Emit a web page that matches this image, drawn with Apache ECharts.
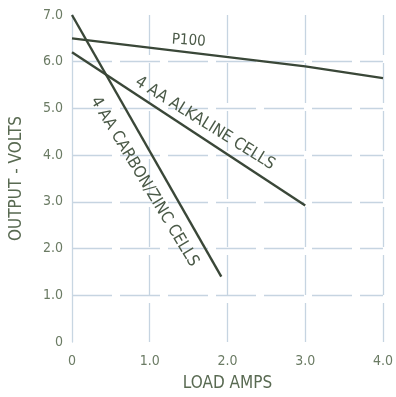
<!DOCTYPE html>
<html><head><meta charset="utf-8">
<script src="https://cdn.jsdelivr.net/npm/echarts@6/dist/echarts.min.js"></script>
<style>html,body{margin:0;padding:0;background:#fff;overflow:hidden}#c{width:396px;height:397px}</style>
</head><body><div id="c"></div>
<script>
const xTicks = [0, 1, 2, 3, 4];
const yTicks = [0, 1, 2, 3, 4, 5, 6, 7];
const p100 = [[0, 6.5], [3, 5.9], [4, 5.65]];
const alkaline = [[0, 6.2], [3, 2.92]];
const carbonZinc = [[0, 7.0], [1.92, 1.4]];
const labelNames = ['P100', '4 AA ALKALINE CELLS', '4 AA CARBON/ZINC CELLS'];
const labelCoords = [[1.5, 6.45], [1.71, 4.68], [0.93, 3.43]];
const labelAngles = [-4, -32, -59];

const font = '"DejaVu Sans Condensed", "Liberation Sans Narrow", sans-serif';
const lineColor = '#3a4738';
function ann(i) {
  return {
    coord: labelCoords[i], symbol: 'circle', symbolSize: 0,
    label: { show: true, position: 'inside', formatter: labelNames[i], rotate: labelAngles[i],
      color: '#4a5947', fontSize: i === 0 ? 15 : 16.5, fontFamily: font, fontWeight: 'normal' }
  };
}
function series(data, i) {
  return {
    type: 'line', data: data, symbol: 'none', lineStyle: { color: lineColor, width: 2.4 },
    markPoint: { silent: true, data: [ann(i)] }, z: 3
  };
}
const gridLine = { show: true, showMinLine: false, showMaxLine: false,
  lineStyle: { color: '#c6d4e1', width: 1.3, type: [40, 8] } };
const chart = echarts.init(document.getElementById('c'));
chart.setOption({
  animation: false,
  grid: { left: 63, right: 3, top: 15, bottom: 54, containLabel: false },
  xAxis: {
    type: 'value', min: 0, max: 4, interval: 1,
    name: 'LOAD AMPS', nameLocation: 'middle', nameGap: 33,
    nameTextStyle: { color: '#596a52', fontSize: 17, fontFamily: font },
    axisLine: { show: false }, axisTick: { show: false },
    axisLabel: { margin: 12, color: '#6b7b64', fontSize: 14, fontFamily: font,
      formatter: v => v === 0 ? '0' : v.toFixed(1) },
    splitLine: Object.assign({}, gridLine, { showMaxLine: true })
  },
  yAxis: {
    type: 'value', min: 0, max: 7, interval: 1,
    name: 'OUTPUT - VOLTS', nameLocation: 'middle', nameGap: 47,
    nameTextStyle: { color: '#596a52', fontSize: 17, fontFamily: font },
    axisLine: { show: true, lineStyle: { color: '#c8d6e2', width: 1.3 } },
    axisTick: { show: false },
    axisLabel: { margin: 9, color: '#6b7b64', fontSize: 14, fontFamily: font,
      formatter: v => v === 0 ? '0' : v.toFixed(1) },
    splitLine: gridLine
  },
  series: [series(p100, 0), series(alkaline, 1), series(carbonZinc, 2)]
});
</script></body></html>
